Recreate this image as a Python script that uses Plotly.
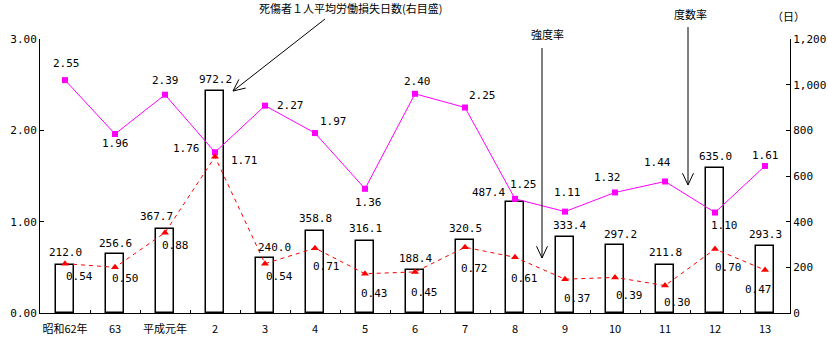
import math
import plotly.graph_objects as go

categories = ["昭和62年", "63", "平成元年", "2", "3", "4", "5", "6", "7", "8", "9", "10", "11", "12", "13"]
frequency_rate = [2.55, 1.96, 2.39, 1.76, 2.27, 1.97, 1.36, 2.40, 2.25, 1.25, 1.11, 1.32, 1.44, 1.10, 1.61]
severity_rate = [0.54, 0.50, 0.88, 1.71, 0.54, 0.71, 0.43, 0.45, 0.72, 0.61, 0.37, 0.39, 0.30, 0.70, 0.47]
lost_days = [212.0, 256.6, 367.7, 972.2, 240.0, 358.8, 316.1, 188.4, 320.5, 487.4, 333.4, 297.2, 211.8, 635.0, 293.3]

# label offsets (pixels): (xshift, yshift)
freq_off = [(1, 17), (0, -10), (0, 14), (-29, 4), (25, 0), (18, 12), (3, -14), (2, 12),
            (17, 12), (8, 14), (2, 19), (-8, 15), (-8, 19), (9, -13), (0, 10)]
sev_off = [(14, -13), (10, -11), (10, -13), (29, -4), (14, -13), (11, -18), (9, -20), (9, -21),
           (9, -21), (9, -21), (12, -19), (14, -18), (12, -17), (13, -18), (-7, -19)]
bar_off = [(0, 12), (0, 11), (-9, 13), (0, 12), (9, 11), (0, 13), (0, 12), (0, 11),
           (0, 11), (-27, 9), (4, 11), (5, 11), (0, 12), (0, 12), (0, 12)]

MONO = "DejaVu Sans Mono, Liberation Mono, monospace"
CJK = "Noto Sans CJK JP"

L, R, T, B = 40, 38, 39, 27
W, H = 828, 340
PW, PH = W - L - R, H - T - B


def px(x, y):
    return (x - L) / PW, (H - B - y) / PH


fig = go.Figure()
idx = list(range(len(categories)))
fig.add_trace(go.Bar(x=idx, y=lost_days, yaxis="y", width=0.36,
                     marker=dict(color="white", line=dict(color="black", width=1.5)),
                     showlegend=False))
fig.add_trace(go.Scatter(x=idx, y=frequency_rate, yaxis="y2", mode="lines+markers",
                         line=dict(color="#FF00FF", width=1),
                         marker=dict(symbol="square", size=6, color="#FF00FF"),
                         showlegend=False))
fig.add_trace(go.Scatter(x=idx, y=severity_rate, yaxis="y2", mode="lines+markers",
                         line=dict(color="#FF0000", width=1, dash="4px,4px"),
                         marker=dict(symbol="triangle-up", size=7, color="#FF0000"),
                         showlegend=False))

ann = []
for i in idx:
    ann.append(dict(x=i, y=frequency_rate[i], xref="x", yref="y2", text=f"{frequency_rate[i]:.2f}",
                    showarrow=False, xshift=freq_off[i][0], yshift=freq_off[i][1],
                    font=dict(family=MONO, size=11, color="black")))
    ann.append(dict(x=i, y=severity_rate[i], xref="x", yref="y2", text=f"{severity_rate[i]:.2f}",
                    showarrow=False, xshift=sev_off[i][0], yshift=sev_off[i][1],
                    font=dict(family=MONO, size=11, color="black")))
    ann.append(dict(x=i, y=lost_days[i], xref="x", yref="y", text=f"{lost_days[i]:.1f}",
                    showarrow=False, xshift=bar_off[i][0], yshift=bar_off[i][1],
                    font=dict(family=MONO, size=11, color="black")))

shapes = []
for tip, tail in [((233, 91), (325, 19)), ((542, 258), (542, 48)), ((688, 185), (688, 27))]:
    x0, y0 = px(*tail)
    x1, y1 = px(*tip)
    shapes.append(dict(type="line", xref="paper", yref="paper", x0=x0, y0=y0, x1=x1, y1=y1,
                       line=dict(color="black", width=1)))
    dx, dy = tail[0] - tip[0], tail[1] - tip[1]
    n = math.hypot(dx, dy)
    ux, uy = dx / n, dy / n
    for a in (math.radians(25), -math.radians(25)):
        wx = ux * math.cos(a) - uy * math.sin(a)
        wy = ux * math.sin(a) + uy * math.cos(a)
        ex, ey = px(tip[0] + 13 * wx, tip[1] + 13 * wy)
        shapes.append(dict(type="line", xref="paper", yref="paper", x0=x1, y0=y1, x1=ex, y1=ey,
                           line=dict(color="black", width=1)))

for text, (cx, cy) in [("死傷者１人平均労働損失日数(右目盛)", (350, 8)), ("強度率", (547, 34)),
                       ("度数率", (690, 14)), ("（日）", (788, 16))]:
    x, y = px(cx, cy)
    ann.append(dict(x=x, y=y, xref="paper", yref="paper", text=text, showarrow=False,
                    xanchor="center", yanchor="middle",
                    font=dict(family=CJK, size=11, color="black")))

fig.update_layout(
    width=W, height=H, margin=dict(l=L, r=R, t=T, b=B, autoexpand=False),
    plot_bgcolor="white", paper_bgcolor="white",
    annotations=ann, shapes=shapes, bargap=0,
    xaxis=dict(tickmode="array", tickvals=idx, ticktext=categories, tickangle=0,
               showline=True, linecolor="black", linewidth=1, automargin=False,
               ticks="outside", ticklen=6, tickcolor="rgba(0,0,0,0)",
               showgrid=False, range=[-0.5, 14.5], zeroline=False,
               minor=dict(tickmode="array", tickvals=[i + 0.5 for i in idx[:-1]],
                          ticks="inside", ticklen=3, tickcolor="black", showgrid=False),
               tickfont=dict(family=CJK, size=11, color="black")),
    yaxis=dict(side="right", range=[0, 1200], dtick=200, tickformat=",d", automargin=False,
               showline=True, linecolor="black", linewidth=1, ticks="inside", ticklen=4,
               tickcolor="black", showgrid=False, zeroline=False,
               tickfont=dict(family=MONO, size=11, color="black")),
    yaxis2=dict(side="left", overlaying="y", anchor="x", range=[0, 3], dtick=1, tickformat=".2f",
                showline=True, linecolor="black", linewidth=1, ticks="inside", ticklen=4,
                tickcolor="black", showgrid=False, zeroline=False, automargin=False,
                tickfont=dict(family=MONO, size=11, color="black")),
)

fig.write_html("out.html")
